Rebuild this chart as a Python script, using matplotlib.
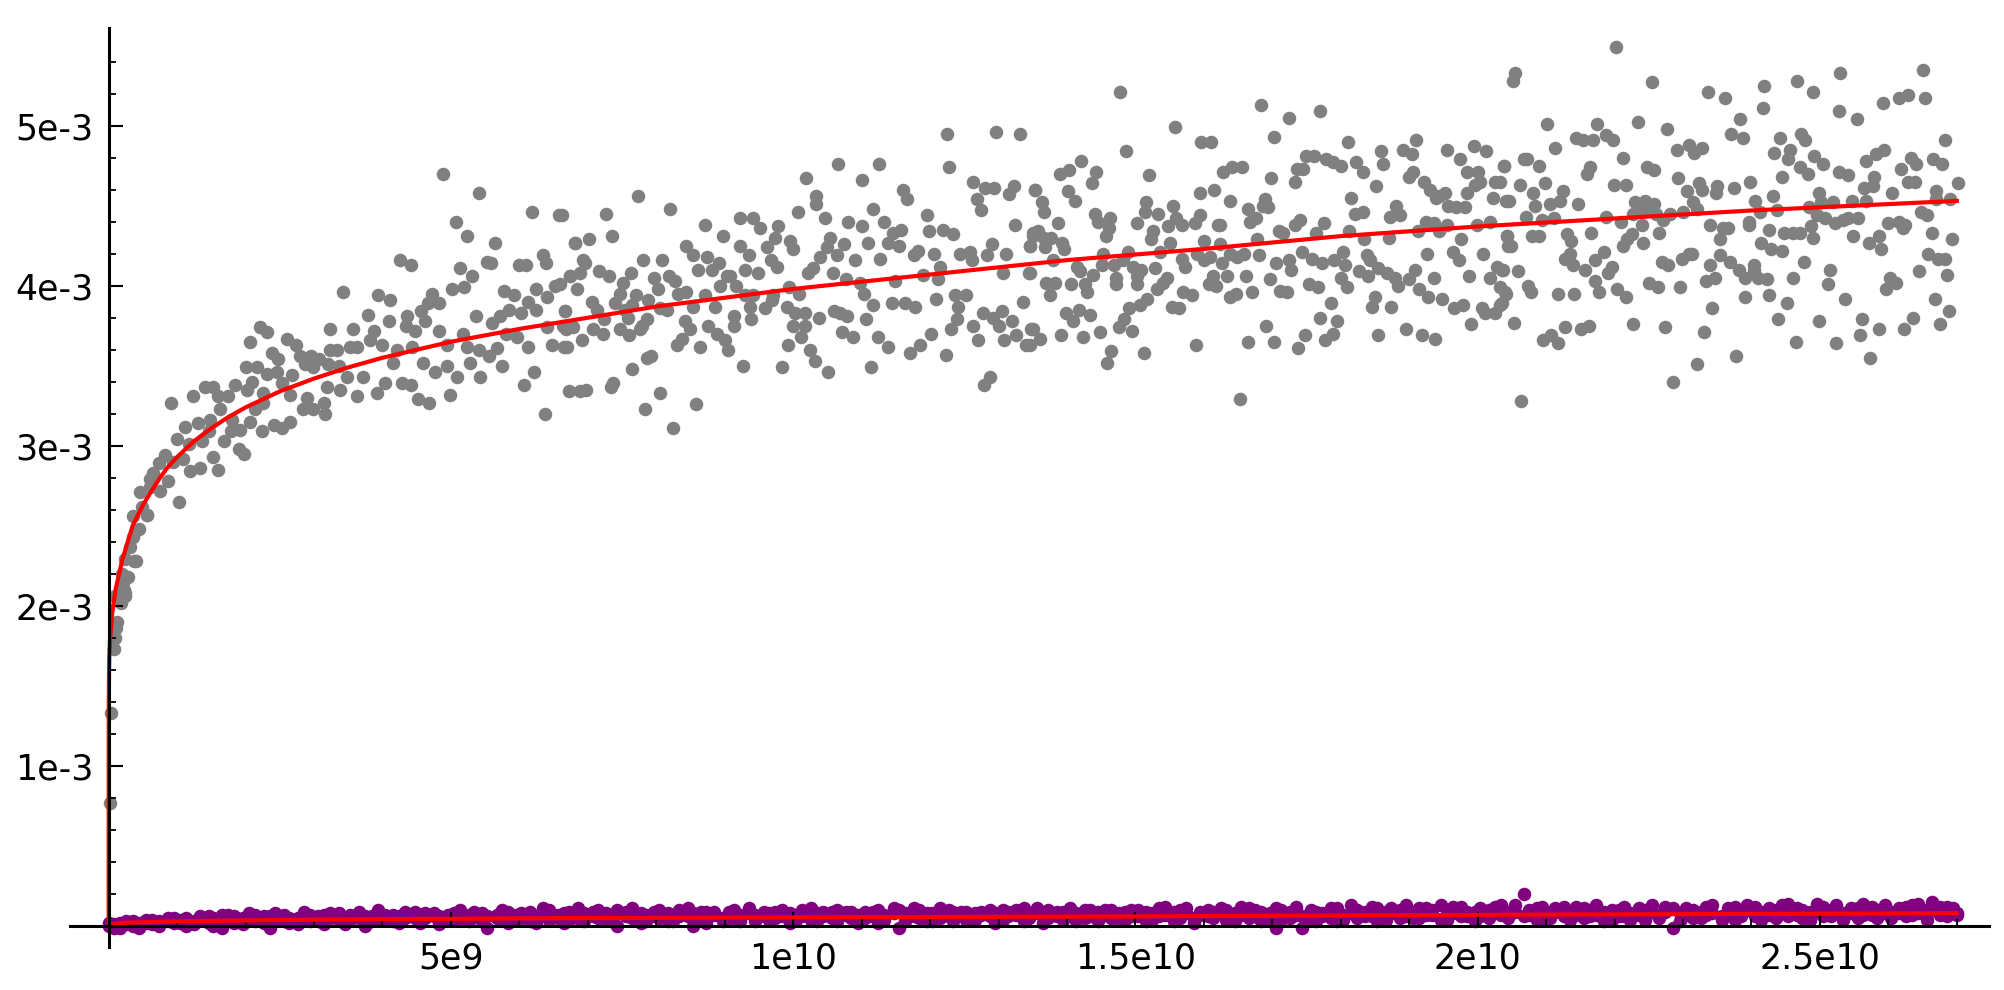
import matplotlib
matplotlib.use('Agg')
import matplotlib.pyplot as plt
import numpy as np

# values: x in units of 1e9, y in units of 1e-3
XU = 1e9
YU = 1e-3

# gray points, x < 1.1
gray_pts_a = [
    (0.02, 0.77), (0.04, 1.33), (0.08, 1.73), (0.09, 1.80), (0.10, 1.86), (0.12, 1.90),
    (0.09, 2.06), (0.18, 2.02), (0.24, 2.06), (0.22, 2.10), (0.28, 2.18), (0.37, 2.28),
    (0.56, 2.57), (0.24, 2.08), (0.21, 2.14), (0.19, 2.20), (0.24, 2.29), (0.40, 2.28),
    (0.31, 2.37), (0.36, 2.43), (0.45, 2.48), (0.36, 2.56), (0.48, 2.62), (0.56, 2.57),
    (0.46, 2.71), (0.60, 2.74), (0.75, 2.72), (1.03, 2.65), (0.65, 2.83), (0.60, 2.79),
    (0.87, 2.78), (0.73, 2.89), (0.82, 2.94), (0.94, 2.90), (1.09, 2.92), (1.00, 3.04),
    (0.91, 3.27),
]

# gray points, 1 < x < 6.9
gray_pts_b = [
    (4.89, 4.70), (5.41, 4.58), (5.07, 4.40), (5.23, 4.31), (5.64, 4.27), (6.18, 4.46),
    (6.58, 4.44), (6.81, 4.27), (4.26, 4.16), (4.42, 4.13), (5.13, 4.11), (5.31, 4.06),
    (5.53, 4.15), (5.59, 4.14), (5.99, 4.13), (6.10, 4.13), (6.35, 4.19), (6.39, 4.14),
    (6.74, 4.06), (3.42, 3.96), (3.94, 3.94), (4.11, 3.91), (4.72, 3.95), (5.02, 3.98),
    (5.19, 3.99), (5.77, 3.97), (5.92, 3.94), (6.24, 3.98), (6.52, 4.00), (6.40, 3.93),
    (6.24, 3.85), (3.79, 3.82), (4.09, 3.78), (4.36, 3.81), (4.57, 3.84), (4.67, 3.89),
    (4.83, 3.89), (4.62, 3.78), (5.36, 3.81), (5.60, 3.77), (5.72, 3.81), (5.85, 3.85),
    (6.03, 3.83), (6.12, 3.90), (6.66, 3.84), (2.21, 3.74), (2.31, 3.71), (2.07, 3.65),
    (2.61, 3.67), (2.74, 3.63), (3.24, 3.73), (3.57, 3.73), (3.87, 3.72), (4.34, 3.75),
    (4.48, 3.72), (4.83, 3.72), (5.17, 3.70), (5.80, 3.70), (5.97, 3.68), (6.41, 3.74),
    (6.68, 3.73), (2.39, 3.58), (2.48, 3.54), (2.80, 3.56), (2.95, 3.56), (3.07, 3.54),
    (3.24, 3.60), (3.34, 3.60), (3.53, 3.62), (3.63, 3.62), (3.82, 3.66), (3.99, 3.63),
    (4.21, 3.60), (4.43, 3.62), (4.94, 3.63), (5.23, 3.62), (5.41, 3.60), (5.68, 3.61),
    (6.13, 3.62), (6.48, 3.63), (6.65, 3.62), (2.01, 3.49), (2.16, 3.49), (2.09, 3.40),
    (2.31, 3.45), (2.46, 3.46), (2.68, 3.44), (2.87, 3.51), (2.99, 3.49), (3.21, 3.51),
    (3.36, 3.50), (3.48, 3.43), (3.72, 3.43), (4.16, 3.52), (4.59, 3.52), (4.77, 3.46),
    (4.94, 3.50), (5.09, 3.43), (5.28, 3.52), (5.43, 3.43), (5.56, 3.56), (5.75, 3.50),
    (6.22, 3.46), (1.41, 3.37), (1.53, 3.37), (1.60, 3.31), (1.75, 3.31), (1.85, 3.38),
    (2.02, 3.35), (2.26, 3.33), (2.53, 3.39), (2.65, 3.32), (2.90, 3.30), (3.19, 3.37),
    (3.38, 3.35), (3.63, 3.31), (3.92, 3.33), (4.04, 3.39), (4.29, 3.39), (4.41, 3.38),
    (4.52, 3.29), (4.68, 3.27), (4.99, 3.32), (6.07, 3.38), (1.23, 3.31), (1.48, 3.16),
    (1.63, 3.23), (1.80, 3.16), (2.14, 3.23), (2.26, 3.27), (2.84, 3.23), (2.99, 3.23),
    (3.15, 3.27), (3.16, 3.20), (6.37, 3.20), (1.12, 3.12), (1.31, 3.14), (1.46, 3.09),
    (1.78, 3.09), (1.92, 3.10), (2.07, 3.15), (2.24, 3.09), (2.41, 3.13), (2.53, 3.11),
    (2.65, 3.15), (1.17, 3.01), (1.36, 3.03), (1.68, 3.03), (1.90, 2.98), (1.97, 2.95),
    (1.53, 2.93), (1.60, 2.85), (1.34, 2.86), (1.19, 2.84),
]

# gray points, 6.6 < x < 13.6
gray_pts_c = [
    (12.25, 4.95), (12.96, 4.96), (13.31, 4.95), (10.66, 4.76), (11.25, 4.76), (12.28, 4.74),
    (10.19, 4.67), (11.00, 4.66), (7.73, 4.56), (8.20, 4.48), (6.62, 4.44), (7.27, 4.45),
    (10.34, 4.56), (10.33, 4.51), (10.07, 4.46), (11.61, 4.60), (11.66, 4.54), (12.62, 4.65),
    (12.80, 4.61), (12.93, 4.61), (13.15, 4.57), (13.22, 4.62), (13.53, 4.60), (12.68, 4.54),
    (12.74, 4.47), (6.81, 4.27), (7.02, 4.29), (7.36, 4.31), (8.71, 4.38), (8.98, 4.31),
    (9.23, 4.42), (9.42, 4.42), (9.52, 4.36), (9.78, 4.37), (9.74, 4.30), (9.95, 4.28),
    (10.46, 4.42), (10.80, 4.40), (11.00, 4.37), (11.17, 4.48), (11.32, 4.40), (11.46, 4.33),
    (11.58, 4.35), (11.95, 4.44), (11.98, 4.34), (12.19, 4.35), (12.34, 4.32), (13.24, 4.38),
    (13.51, 4.33), (6.93, 4.16), (6.96, 4.14), (7.17, 4.09), (7.31, 4.06), (6.74, 4.06),
    (6.89, 4.08), (7.63, 4.08), (7.81, 4.16), (8.08, 4.16), (8.44, 4.25), (8.54, 4.19),
    (8.74, 4.18), (8.92, 4.14), (8.61, 4.10), (8.81, 4.10), (9.08, 4.06), (9.23, 4.25),
    (9.35, 4.19), (9.30, 4.10), (9.48, 4.08), (9.62, 4.24), (9.67, 4.16), (9.76, 4.12),
    (10.00, 4.23), (10.21, 4.08), (10.29, 4.11), (10.39, 4.18), (10.54, 4.30), (10.49, 4.24),
    (10.64, 4.19), (10.74, 4.26), (10.58, 4.08), (10.90, 4.16), (11.10, 4.27), (11.27, 4.17),
    (11.39, 4.27), (11.54, 4.25), (11.76, 4.19), (11.83, 4.22), (12.06, 4.20), (12.14, 4.12),
    (12.43, 4.20), (12.58, 4.21), (12.61, 4.16), (12.83, 4.19), (12.90, 4.26), (13.11, 4.20),
    (13.07, 4.08), (13.44, 4.08), (13.46, 4.25), (6.59, 4.01), (6.84, 3.98), (7.51, 4.02),
    (7.47, 3.95), (7.71, 3.94), (7.97, 4.05), (8.18, 4.06), (8.27, 4.03), (8.03, 3.98),
    (8.32, 3.95), (8.44, 3.96), (8.93, 4.00), (9.03, 4.06), (9.17, 4.00), (9.30, 3.94),
    (9.42, 3.94), (9.71, 3.94), (9.94, 3.99), (10.09, 3.95), (10.77, 4.04), (10.98, 4.02),
    (11.49, 4.03), (11.89, 4.07), (12.11, 4.04), (6.67, 3.84), (7.06, 3.90), (7.13, 3.85),
    (7.40, 3.89), (7.54, 3.85), (7.64, 3.88), (7.88, 3.91), (8.05, 3.86), (8.16, 3.85),
    (8.54, 3.87), (8.71, 3.94), (8.86, 3.87), (9.37, 3.87), (9.59, 3.86), (9.69, 3.91),
    (9.91, 3.87), (10.03, 3.83), (10.17, 3.83), (11.03, 3.95), (11.17, 3.88), (11.44, 3.89),
    (11.63, 3.89), (11.78, 3.87), (12.09, 3.92), (12.36, 3.94), (12.53, 3.94), (12.41, 3.87),
    (12.78, 3.83), (13.05, 3.84), (13.36, 3.90), (6.64, 3.75), (6.79, 3.74), (7.08, 3.73),
    (7.23, 3.79), (7.47, 3.73), (7.59, 3.80), (7.79, 3.75), (7.86, 3.79), (8.42, 3.78),
    (8.49, 3.73), (8.76, 3.75), (8.88, 3.70), (9.13, 3.81), (9.13, 3.75), (9.39, 3.79),
    (10.00, 3.75), (10.17, 3.75), (10.37, 3.80), (10.59, 3.84), (10.69, 3.83), (10.78, 3.81),
    (11.06, 3.79), (12.39, 3.79), (12.63, 3.75), (12.92, 3.80), (13.01, 3.75), (13.19, 3.78),
    (13.48, 3.73), (6.69, 3.62), (6.91, 3.66), (7.22, 3.70), (7.60, 3.69), (7.76, 3.73),
    (8.30, 3.63), (8.37, 3.67), (8.64, 3.62), (9.01, 3.66), (9.05, 3.60), (9.93, 3.63),
    (10.11, 3.68), (10.24, 3.60), (10.71, 3.71), (10.88, 3.68), (11.24, 3.68), (11.39, 3.62),
    (11.86, 3.63), (12.01, 3.70), (12.30, 3.73), (12.70, 3.66), (13.08, 3.66), (13.26, 3.69),
    (13.40, 3.63), (7.65, 3.48), (7.87, 3.55), (7.93, 3.56), (9.26, 3.50), (9.83, 3.49),
    (10.32, 3.53), (10.51, 3.46), (11.13, 3.49), (11.71, 3.58), (12.23, 3.57), (6.72, 3.34),
    (6.89, 3.34), (6.97, 3.35), (7.34, 3.37), (7.37, 3.39), (8.05, 3.33), (8.58, 3.26),
    (7.84, 3.23), (8.24, 3.11), (12.87, 3.43), (12.79, 3.38),
]

# gray points, 13.4 < x < 20.5
gray_pts_d = [
    (14.78, 5.21), (16.83, 5.13), (17.25, 5.05), (17.70, 5.09), (15.58, 4.99), (14.86, 4.84),
    (17.03, 4.93), (15.96, 4.90), (16.11, 4.90), (18.11, 4.90), (19.10, 4.91), (18.91, 4.85),
    (19.04, 4.82), (19.55, 4.85), (19.95, 4.87), (20.12, 4.84), (20.38, 4.75), (18.59, 4.84),
    (18.61, 4.76), (17.49, 4.81), (17.61, 4.81), (17.79, 4.79), (17.89, 4.77), (18.01, 4.75),
    (18.22, 4.77), (18.32, 4.71), (17.36, 4.73), (17.45, 4.73), (17.33, 4.65), (19.74, 4.79),
    (19.84, 4.71), (20.01, 4.71), (18.99, 4.68), (19.06, 4.71), (14.21, 4.78), (13.90, 4.70),
    (14.03, 4.72), (14.43, 4.71), (14.36, 4.64), (15.20, 4.69), (16.28, 4.71), (16.41, 4.74),
    (16.55, 4.74), (16.98, 4.67), (13.54, 4.60), (14.01, 4.59), (14.12, 4.53), (15.95, 4.58),
    (16.15, 4.60), (16.38, 4.53), (19.21, 4.65), (19.30, 4.60), (19.39, 4.55), (19.52, 4.58),
    (19.84, 4.58), (19.96, 4.63), (20.03, 4.65), (20.25, 4.65), (20.23, 4.55), (20.41, 4.53),
    (18.52, 4.62), (18.15, 4.55), (13.64, 4.52), (13.66, 4.46), (15.16, 4.52), (15.14, 4.46),
    (15.33, 4.45), (15.55, 4.50), (14.41, 4.45), (14.46, 4.40), (14.63, 4.42), (14.61, 4.36),
    (14.57, 4.31), (15.60, 4.42), (15.68, 4.38), (15.94, 4.44), (15.87, 4.39), (15.47, 4.37),
    (16.65, 4.48), (16.89, 4.54), (16.87, 4.50), (16.94, 4.49), (16.68, 4.40), (16.76, 4.42),
    (16.20, 4.38), (16.24, 4.38), (19.44, 4.56), (19.57, 4.50), (19.69, 4.49), (19.81, 4.49),
    (18.81, 4.50), (18.86, 4.44), (18.72, 4.43), (18.21, 4.45), (18.32, 4.46), (13.87, 4.39),
    (13.57, 4.34), (13.50, 4.31), (13.66, 4.30), (13.77, 4.30), (13.46, 4.25), (13.68, 4.24),
    (13.92, 4.27), (13.95, 4.23), (15.03, 4.39), (15.25, 4.34), (15.23, 4.29), (15.51, 4.27),
    (16.00, 4.28), (16.24, 4.26), (16.78, 4.29), (17.10, 4.34), (17.16, 4.33), (17.33, 4.38),
    (17.40, 4.41), (17.64, 4.33), (17.76, 4.39), (18.12, 4.34), (18.34, 4.29), (18.71, 4.30),
    (19.13, 4.34), (19.24, 4.40), (19.36, 4.39), (19.43, 4.34), (19.55, 4.38), (19.76, 4.29),
    (19.99, 4.38), (20.18, 4.40), (20.43, 4.31), (20.44, 4.25), (13.79, 4.16), (14.14, 4.12),
    (14.19, 4.09), (14.52, 4.20), (14.51, 4.13), (14.68, 4.13), (14.89, 4.21), (14.82, 4.16),
    (14.97, 4.12), (15.08, 4.10), (15.29, 4.11), (15.36, 4.21), (15.68, 4.17), (15.73, 4.12),
    (15.90, 4.20), (16.00, 4.16), (16.09, 4.18), (16.26, 4.14), (16.38, 4.20), (16.48, 4.18),
    (16.58, 4.20), (16.81, 4.19), (17.05, 4.14), (17.25, 4.16), (17.28, 4.10), (17.44, 4.21),
    (17.58, 4.17), (17.72, 4.14), (17.90, 4.16), (18.03, 4.21), (18.06, 4.13), (18.38, 4.19),
    (18.43, 4.16), (18.54, 4.11), (19.26, 4.20), (19.64, 4.21), (19.72, 4.16), (20.08, 4.20),
    (20.28, 4.12), (20.36, 4.10), (13.46, 4.08), (13.70, 4.02), (13.82, 4.02), (13.75, 3.94),
    (14.06, 4.01), (14.26, 4.01), (14.38, 4.07), (14.29, 3.96), (14.71, 4.05), (14.72, 4.01),
    (15.02, 4.06), (15.02, 4.01), (15.31, 3.98), (15.41, 4.02), (15.46, 4.05), (15.70, 3.96),
    (15.82, 3.94), (16.07, 4.01), (16.14, 4.06), (16.18, 4.00), (16.34, 4.06), (16.62, 4.06),
    (16.71, 3.96), (16.96, 4.04), (17.11, 3.97), (17.22, 3.96), (17.54, 4.01), (17.67, 3.99),
    (18.00, 4.05), (18.09, 3.99), (18.27, 4.09), (18.40, 4.06), (18.67, 4.08), (18.79, 4.05),
    (18.84, 4.00), (18.99, 4.04), (19.09, 4.10), (19.15, 3.98), (19.36, 4.05), (19.88, 4.06),
    (20.18, 4.05), (20.40, 3.96), (18.50, 3.93), (18.45, 3.87), (18.74, 3.87), (19.28, 3.93),
    (19.48, 3.92), (19.65, 3.86), (19.79, 3.88), (20.06, 3.86), (20.11, 3.83), (20.25, 3.83),
    (20.33, 3.88), (13.99, 3.83), (14.17, 3.85), (14.09, 3.78), (14.34, 3.82), (14.91, 3.86),
    (14.83, 3.79), (14.76, 3.74), (15.07, 3.88), (15.17, 3.92), (15.53, 3.87), (15.63, 3.86),
    (16.38, 3.93), (16.47, 3.95), (17.86, 3.89), (17.69, 3.80), (17.94, 3.78), (13.51, 3.73),
    (13.61, 3.67), (13.46, 3.63), (13.91, 3.69), (14.24, 3.68), (14.48, 3.71), (14.95, 3.72),
    (16.91, 3.75), (15.88, 3.63), (16.64, 3.65), (17.02, 3.65), (17.37, 3.61), (17.48, 3.69),
    (17.77, 3.66), (17.88, 3.70), (18.55, 3.69), (18.95, 3.73), (19.18, 3.69), (19.38, 3.67),
    (19.90, 3.76), (14.65, 3.59), (14.59, 3.52), (15.12, 3.58), (16.53, 3.29),
]

# gray points, x > 20.3
gray_pts_e = [
    (22.02, 5.49), (20.55, 5.33), (20.51, 5.28), (22.54, 5.27), (26.51, 5.35), (25.30, 5.33),
    (24.66, 5.28), (24.18, 5.25), (23.36, 5.21), (23.61, 5.17), (24.90, 5.21), (26.53, 5.17),
    (26.16, 5.17), (26.28, 5.19), (25.92, 5.14), (24.17, 5.11), (25.28, 5.09), (25.54, 5.04),
    (23.83, 5.04), (21.02, 5.01), (21.75, 5.01), (22.34, 5.02), (22.77, 4.98), (23.70, 4.95),
    (23.87, 4.92), (21.44, 4.92), (21.54, 4.91), (21.68, 4.91), (21.88, 4.94), (21.98, 4.91),
    (24.42, 4.92), (24.73, 4.95), (24.78, 4.91), (26.82, 4.91), (21.13, 4.86), (20.39, 4.75),
    (20.67, 4.79), (20.72, 4.79), (20.90, 4.75), (22.13, 4.80), (22.91, 4.85), (23.08, 4.88),
    (23.16, 4.83), (23.27, 4.86), (24.33, 4.83), (24.57, 4.85), (24.53, 4.79), (24.91, 4.81),
    (25.04, 4.76), (25.67, 4.78), (25.82, 4.82), (25.94, 4.85), (26.33, 4.80), (26.40, 4.76),
    (26.65, 4.79), (26.78, 4.76), (20.33, 4.65), (20.62, 4.63), (20.46, 4.53), (20.81, 4.58),
    (20.98, 4.64), (20.84, 4.50), (21.05, 4.51), (21.24, 4.59), (21.20, 4.53), (21.46, 4.51),
    (21.59, 4.70), (21.64, 4.74), (21.99, 4.63), (22.16, 4.63), (22.47, 4.74), (22.58, 4.72),
    (22.93, 4.67), (23.06, 4.59), (23.24, 4.64), (23.27, 4.60), (23.50, 4.62), (23.48, 4.58),
    (23.75, 4.61), (23.98, 4.65), (24.45, 4.68), (24.71, 4.74), (24.83, 4.70), (24.31, 4.56),
    (24.98, 4.58), (25.28, 4.71), (25.41, 4.69), (25.79, 4.68), (25.64, 4.61), (25.77, 4.62),
    (26.18, 4.73), (26.29, 4.65), (26.39, 4.65), (26.06, 4.58), (26.69, 4.59), (27.02, 4.64),
    (20.70, 4.43), (20.94, 4.41), (21.11, 4.42), (21.87, 4.43), (22.09, 4.40), (22.30, 4.52),
    (22.44, 4.53), (22.57, 4.51), (22.27, 4.45), (22.37, 4.48), (22.49, 4.47), (22.61, 4.45),
    (22.71, 4.41), (22.81, 4.45), (23.00, 4.46), (23.14, 4.52), (23.20, 4.48), (22.40, 4.38),
    (24.05, 4.53), (24.13, 4.46), (24.37, 4.47), (24.84, 4.49), (25.02, 4.52), (25.19, 4.52),
    (24.95, 4.44), (25.07, 4.42), (25.47, 4.53), (25.68, 4.53), (25.41, 4.42), (25.56, 4.42),
    (26.47, 4.46), (26.56, 4.44), (26.69, 4.54), (26.90, 4.54), (20.43, 4.31), (20.48, 4.25),
    (20.79, 4.31), (20.89, 4.31), (21.30, 4.32), (21.37, 4.28), (21.66, 4.33), (22.12, 4.25),
    (22.18, 4.29), (22.25, 4.32), (22.41, 4.27), (22.65, 4.33), (23.40, 4.38), (23.58, 4.36),
    (23.66, 4.36), (23.54, 4.29), (23.96, 4.40), (23.97, 4.38), (24.25, 4.35), (24.14, 4.27),
    (24.48, 4.33), (24.61, 4.33), (24.71, 4.33), (24.87, 4.37), (24.90, 4.30), (25.22, 4.39),
    (25.33, 4.41), (25.48, 4.31), (25.72, 4.27), (25.86, 4.31), (25.99, 4.39), (26.15, 4.40),
    (26.25, 4.38), (26.21, 4.36), (26.63, 4.33), (26.93, 4.29), (25.89, 4.23), (21.28, 4.17),
    (21.35, 4.20), (21.39, 4.13), (21.84, 4.21), (21.71, 4.16), (21.96, 4.12), (21.91, 4.08),
    (21.57, 4.10), (20.37, 4.10), (20.59, 4.09), (22.99, 4.17), (23.08, 4.20), (23.13, 4.20),
    (22.69, 4.15), (22.78, 4.13), (23.39, 4.13), (23.54, 4.19), (23.69, 4.15), (23.82, 4.10),
    (23.91, 4.05), (24.03, 4.13), (24.04, 4.10), (24.28, 4.23), (24.44, 4.22), (24.77, 4.15),
    (25.15, 4.10), (26.58, 4.20), (26.73, 4.17), (26.83, 4.17), (26.45, 4.09), (20.33, 3.99),
    (20.41, 3.95), (20.35, 3.89), (20.74, 4.00), (20.78, 3.96), (21.17, 3.95), (21.40, 3.95),
    (21.72, 4.03), (21.77, 3.96), (22.03, 3.98), (22.16, 3.93), (22.51, 4.02), (22.64, 3.99),
    (22.96, 3.99), (23.34, 4.03), (23.47, 4.05), (24.09, 4.05), (24.22, 4.04), (24.61, 4.05),
    (25.12, 4.01), (26.02, 4.05), (26.11, 4.02), (25.97, 3.98), (26.86, 4.07), (23.91, 3.93),
    (24.26, 3.94), (24.52, 3.89), (25.36, 3.92), (26.68, 3.92), (20.53, 3.77), (20.96, 3.66),
    (21.07, 3.69), (21.17, 3.64), (21.28, 3.74), (21.51, 3.73), (21.62, 3.75), (22.27, 3.76),
    (22.74, 3.74), (23.43, 3.86), (23.31, 3.71), (24.39, 3.79), (24.99, 3.78), (24.65, 3.65),
    (25.24, 3.64), (25.61, 3.79), (25.59, 3.69), (25.87, 3.73), (25.73, 3.55), (26.23, 3.73),
    (26.36, 3.80), (26.76, 3.76), (26.89, 3.84), (23.21, 3.51), (23.77, 3.56), (22.85, 3.40),
    (20.63, 3.28),
]

# purple points: one x list, two y lists (the band is very dense)
purple_x = [
    0.0, 0.08, 0.17, 0.25, 0.36, 0.44, 0.55, 0.63, 0.74, 0.86, 0.95,
    1.04, 1.13, 1.25, 1.33, 1.46, 1.52, 1.65, 1.74, 1.83, 1.96,
    2.05, 2.14, 2.27, 2.35, 2.43, 2.56, 2.64, 2.77, 2.85, 2.94,
    3.06, 3.15, 3.23, 3.37, 3.45, 3.52, 3.66, 3.74, 3.85, 3.93,
    4.04, 4.16, 4.24, 4.33, 4.47, 4.55, 4.62, 4.75, 4.83, 4.96,
    5.05, 5.13, 5.26, 5.34, 5.45, 5.53, 5.67, 5.75, 5.84, 5.95,
    6.03, 6.16, 6.24, 6.35, 6.43, 6.57, 6.65, 6.73, 6.86, 6.94,
    7.07, 7.15, 7.26, 7.34, 7.43, 7.56, 7.64, 7.77, 7.85, 7.96,
    8.04, 8.17, 8.25, 8.33, 8.46, 8.54, 8.65, 8.73, 8.84, 8.97,
    9.06, 9.14, 9.23, 9.36, 9.44, 9.57, 9.65, 9.74, 9.83, 9.95,
    10.04, 10.13, 10.26, 10.35, 10.43, 10.56, 10.64, 10.77, 10.85, 10.94,
    11.05, 11.16, 11.24, 11.33, 11.47, 11.55, 11.63, 11.76, 11.84, 11.96,
    12.03, 12.15, 12.27, 12.34, 12.45, 12.53, 12.66, 12.74, 12.87, 12.95,
    13.06, 13.14, 13.25, 13.37, 13.44, 13.56, 13.65, 13.73, 13.86, 13.94,
    14.05, 14.13, 14.26, 14.34, 14.46, 14.55, 14.64, 14.76, 14.85, 14.93,
    15.04, 15.16, 15.24, 15.35, 15.43, 15.57, 15.65, 15.74, 15.86, 15.95,
    16.06, 16.14, 16.25, 16.33, 16.46, 16.54, 16.66, 16.75, 16.83, 16.96,
    17.05, 17.13, 17.26, 17.35, 17.44, 17.56, 17.64, 17.73, 17.85, 17.94,
    18.03, 18.15, 18.24, 18.36, 18.45, 18.53, 18.66, 18.74, 18.86, 18.95,
    19.06, 19.14, 19.25, 19.33, 19.47, 19.55, 19.64, 19.76, 19.84, 19.96,
    20.04, 20.16, 20.25, 20.34, 20.45, 20.54, 20.67, 20.75, 20.86, 20.94,
    21.05, 21.13, 21.26, 21.35, 21.43, 21.56, 21.64, 21.73, 21.85, 21.96,
    22.06, 22.14, 22.23, 22.36, 22.44, 22.55, 22.65, 22.74, 22.86, 22.95,
    23.04, 23.15, 23.26, 23.34, 23.43, 23.57, 23.65, 23.76, 23.84, 23.93,
    24.05, 24.14, 24.25, 24.36, 24.44, 24.53, 24.66, 24.74, 24.85, 24.96,
    25.05, 25.16, 25.24, 25.33, 25.46, 25.55, 25.63, 25.76, 25.84, 25.95,
    26.04, 26.15, 26.26, 26.34, 26.43, 26.56, 26.64, 26.75, 26.85, 26.94, 27.0,
]
purple_y = [
    0.0, -0.01, 0.02, 0.01, 0.03, -0.01, 0.02, 0.04, 0.0, 0.03, 0.05,
    0.02, 0.05, 0.01, 0.04, 0.06, 0.0, -0.01, 0.07, 0.02, 0.05,
    0.08, 0.03, 0.06, -0.01, 0.04, 0.07, 0.02, 0.05, 0.09, 0.03,
    0.06, 0.01, 0.08, 0.04, 0.03, 0.07, 0.05, 0.0, 0.06, 0.10,
    0.04, 0.07, 0.02, 0.09, 0.05, 0.03, 0.08, 0.06, 0.01, 0.07,
    0.05, 0.10, 0.03, 0.06, 0.08, -0.01, 0.07, 0.04, 0.09, 0.05,
    0.08, 0.03, 0.06, 0.11, 0.04, 0.07, 0.02, 0.09, 0.05, 0.08,
    0.06, 0.10, 0.04, 0.07, 0.0, 0.09, 0.05, 0.08, 0.03, 0.09,
    0.05, 0.08, 0.03, 0.10, 0.06, 0.0, 0.09, 0.02, 0.07, 0.05,
    0.09, 0.04, 0.07, 0.11, 0.03, 0.06, 0.08, 0.05, 0.10, 0.02,
    0.07, 0.10, 0.04, 0.08, 0.06, 0.09, 0.03, 0.09, 0.05, 0.07,
    0.05, 0.09, 0.02, 0.07, 0.11, -0.01, 0.08, 0.06, 0.10, 0.03,
    0.08, 0.05, 0.10, 0.03, 0.07, 0.09, 0.04, 0.09, 0.06, 0.08,
    0.04, 0.09, 0.07, 0.11, 0.05, 0.08, 0.02, 0.10, 0.06, 0.09,
    0.07, 0.03, 0.10, 0.06, 0.09, 0.10, 0.05, 0.08, 0.04, 0.10,
    0.06, 0.09, 0.04, 0.11, 0.07, 0.03, 0.10, 0.08, 0.05, 0.09,
    0.10, 0.05, 0.08, 0.10, 0.03, 0.07, 0.11, 0.06, 0.09, 0.04,
    -0.01, 0.10, 0.05, 0.07, -0.01, 0.04, 0.09, 0.06, 0.11, 0.03,
    0.07, 0.13, 0.05, 0.09, 0.06, 0.11, 0.04, 0.08, 0.10, 0.06,
    0.09, 0.05, 0.11, 0.07, 0.04, 0.10, 0.08, 0.12, 0.06, 0.09,
    0.06, 0.10, 0.08, 0.13, 0.05, 0.09, 0.20, 0.07, 0.11, 0.04,
    0.08, 0.11, 0.06, 0.09, 0.12, 0.05, 0.10, 0.07, 0.09, 0.04,
    0.10, 0.06, 0.08, 0.11, 0.04, 0.09, 0.07, 0.12, -0.01, 0.08,
    0.07, 0.10, 0.05, 0.12, 0.08, 0.06, 0.11, 0.04, 0.09, 0.13,
    0.06, 0.09, 0.11, 0.05, 0.08, 0.14, 0.07, 0.10, 0.04, 0.09,
    0.12, 0.06, 0.09, 0.08, 0.11, 0.05, 0.14, 0.07, 0.10, 0.08,
    0.09, 0.11, 0.06, 0.13, 0.08, 0.10, 0.15, 0.07, 0.12, 0.09, 0.08,
]
purple_y2 = [
    0.02, 0.01, -0.01, 0.03, 0.0, 0.02, 0.04, 0.01, 0.03, 0.05, 0.02,
    0.04, 0.0, 0.03, 0.06, 0.02, 0.05, 0.07, 0.03, 0.06, 0.01,
    0.05, 0.07, 0.02, 0.06, 0.08, 0.03, 0.05, 0.01, 0.06, 0.07,
    0.03, 0.07, 0.05, 0.08, 0.01, 0.04, 0.09, 0.06, 0.03, 0.05,
    0.07, 0.03, 0.06, 0.05, 0.09, 0.02, 0.05, 0.08, 0.06, 0.04,
    0.08, 0.04, 0.07, 0.09, 0.03, 0.06, 0.05, 0.10, 0.02, 0.07,
    0.05, 0.09, 0.02, 0.07, 0.10, 0.05, 0.08, 0.04, 0.11, 0.03,
    0.09, 0.05, 0.08, 0.03, 0.10, 0.06, 0.11, 0.02, 0.07, 0.06,
    0.10, 0.03, 0.07, 0.06, 0.11, 0.08, 0.04, 0.09, 0.09, 0.03,
    0.06, 0.10, 0.03, 0.08, 0.07, 0.09, 0.04, 0.09, 0.06, 0.08,
    0.04, 0.06, 0.11, 0.03, 0.09, 0.05, 0.10, 0.07, 0.09, 0.02,
    0.09, 0.06, 0.10, 0.04, 0.08, 0.10, 0.03, 0.11, 0.05, 0.08,
    0.03, 0.11, 0.06, 0.09, 0.09, 0.04, 0.08, 0.07, 0.10, 0.02,
    0.10, 0.06, 0.10, 0.03, 0.08, 0.11, 0.07, 0.05, 0.09, 0.04,
    0.11, 0.08, 0.05, 0.10, 0.03, 0.07, 0.10, 0.04, 0.09, 0.06,
    0.10, 0.03, 0.08, 0.06, 0.12, 0.09, 0.05, 0.11, 0.02, 0.07,
    0.06, 0.09, 0.11, 0.04, 0.08, 0.12, 0.05, 0.10, 0.03, 0.08,
    0.11, 0.04, 0.09, 0.12, 0.06, 0.10, 0.03, 0.08, 0.05, 0.11,
    0.04, 0.08, 0.10, 0.06, 0.12, 0.03, 0.09, 0.11, 0.05, 0.13,
    0.05, 0.11, 0.07, 0.10, 0.13, 0.04, 0.12, 0.06, 0.09, 0.03,
    0.11, 0.05, 0.12, 0.07, 0.09, 0.13, 0.06, 0.10, 0.04, 0.12,
    0.05, 0.09, 0.12, 0.04, 0.07, 0.11, 0.06, 0.13, 0.03, 0.10,
    0.06, 0.12, 0.04, 0.07, 0.10, 0.13, 0.05, 0.09, 0.11, 0.03,
    0.11, 0.05, 0.09, 0.07, 0.13, 0.04, 0.08, 0.12, 0.06, 0.10,
    0.12, 0.04, 0.07, 0.10, 0.13, 0.06, 0.11, 0.05, 0.09, 0.14,
    0.06, 0.10, 0.13, 0.04, 0.08, 0.11, 0.07, 0.12, 0.05, 0.13,
    0.05, 0.08, 0.12, 0.07, 0.14, 0.04, 0.10, 0.12, 0.06, 0.11, 0.07,
]

# red fitted curves
fit_gray_x = [0.0, 0.0005, 0.002, 0.005, 0.01, 0.02, 0.05, 0.1, 0.2, 0.35, 0.5, 0.6, 0.75,
              0.85, 1.0, 1.25, 1.5, 1.75, 2.0, 2.5, 3.0, 3.5, 4.0, 4.5, 5.0, 6.0, 7.0, 8.0,
              10.0, 12.0, 14.0, 16.0, 18.0, 20.0, 22.0, 24.0, 26.0, 27.0]
fit_gray_y = [0.0, 1.10, 1.40, 1.58, 1.70, 1.79, 1.95, 2.10, 2.29, 2.50, 2.63, 2.70, 2.80,
              2.86, 2.93, 3.03, 3.11, 3.18, 3.24, 3.34, 3.42, 3.49, 3.55, 3.60, 3.65, 3.73,
              3.80, 3.87, 3.98, 4.07, 4.16, 4.23, 4.31, 4.37, 4.42, 4.47, 4.51, 4.53]
fit_purple_x = [0.0, 0.05, 0.2, 1.0, 3.0, 6.0, 10.0, 15.0, 20.0, 27.0]
fit_purple_y = [0.0, 0.01, 0.02, 0.03, 0.04, 0.048, 0.054, 0.06, 0.07, 0.08]

x_major = [5e9, 1e10, 1.5e10, 2e10, 2.5e10]
x_labels = ['5e9', '1e10', '1.5e10', '2e10', '2.5e10']
y_major = [1e-3, 2e-3, 3e-3, 4e-3, 5e-3]
y_labels = ['1e-3', '2e-3', '3e-3', '4e-3', '5e-3']

gray = np.array(gray_pts_a + gray_pts_b + gray_pts_c + gray_pts_d + gray_pts_e)
px = np.array(purple_x + purple_x)
py = np.array(purple_y + purple_y2)

fig = plt.figure(figsize=(20.04, 9.90), dpi=100)
ax = fig.add_axes([70 / 2004, 43 / 990, 1919 / 2004, 919 / 990])

ax.scatter(gray[:, 0] * XU, gray[:, 1] * YU, s=95, c='#808080', linewidths=0)
ax.scatter(px * XU, py * YU, s=95, c='#800080', linewidths=0)
ax.plot(np.array(fit_gray_x) * XU, np.array(fit_gray_y) * YU, color='red', lw=3.0)
ax.plot(np.array(fit_purple_x) * XU, np.array(fit_purple_y) * YU, color='red', lw=3.0)

ax.set_xlim(-0.565e9, 27.47e9)
ax.set_ylim(-0.131e-3, 5.61e-3)

# sage style axes crossing at the origin
for side in ['top', 'right']:
    ax.spines[side].set_visible(False)
ax.spines['left'].set_position(('data', 0))
ax.spines['bottom'].set_position(('data', 0))
for side in ['left', 'bottom']:
    ax.spines[side].set_linewidth(2.2)

ax.set_xticks(x_major, x_labels)
ax.set_yticks(y_major, y_labels)
ax.set_xticks([i * 1e9 for i in range(1, 28) if i % 5], minor=True)
ax.set_yticks([i * 0.2e-3 for i in range(1, 28) if i % 5], minor=True)
ax.tick_params(which='major', direction='in', length=10, width=1.5, labelsize=25, pad=11)
ax.tick_params(which='minor', direction='in', length=5, width=1.3)

plt.savefig('out.png', dpi=100)
